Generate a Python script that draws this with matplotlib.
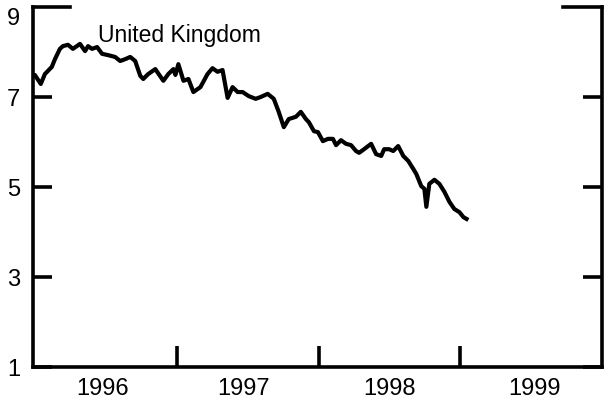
import numpy as np
import matplotlib
matplotlib.use("Agg")
import matplotlib.pyplot as plt

plt.rcParams['font.family'] = ['Liberation Sans', 'DejaVu Sans']

# 10年期国债收益率（英国），按读图估计
years = [1995.979, 1995.993, 1996.035, 1996.064, 1996.113, 1996.135, 1996.170, 1996.191,
         1996.227, 1996.262, 1996.312, 1996.348, 1996.369, 1996.397, 1996.433, 1996.468,
         1996.511, 1996.560, 1996.596, 1996.631, 1996.667, 1996.702, 1996.738, 1996.759,
         1996.794, 1996.844, 1996.901, 1996.936, 1996.972, 1996.986, 1997.007, 1997.043,
         1997.078, 1997.113, 1997.163, 1997.213, 1997.248, 1997.284, 1997.319, 1997.355,
         1997.390, 1997.426, 1997.461, 1997.504, 1997.553, 1997.589, 1997.638, 1997.681,
         1997.716, 1997.752, 1997.787, 1997.837, 1997.872, 1997.908, 1997.929, 1997.965,
         1997.993, 1998.028, 1998.064, 1998.099, 1998.121, 1998.156, 1998.191, 1998.227,
         1998.262, 1998.284, 1998.319, 1998.369, 1998.404, 1998.440, 1998.461, 1998.496,
         1998.525, 1998.560, 1998.596, 1998.631, 1998.667, 1998.688, 1998.723, 1998.745,
         1998.759, 1998.780, 1998.816, 1998.851, 1998.887, 1998.922, 1998.957, 1998.993,
         1999.021, 1999.043]
yields = [7.47, 7.49, 7.29, 7.51, 7.67, 7.84, 8.07, 8.13,
          8.16, 8.07, 8.18, 8.02, 8.13, 8.07, 8.11, 7.96,
          7.93, 7.89, 7.80, 7.84, 7.89, 7.80, 7.47, 7.40,
          7.51, 7.62, 7.36, 7.51, 7.62, 7.49, 7.73, 7.36,
          7.40, 7.11, 7.22, 7.51, 7.64, 7.56, 7.60, 6.98,
          7.22, 7.11, 7.11, 7.02, 6.96, 7.00, 7.07, 6.96,
          6.67, 6.33, 6.51, 6.56, 6.67, 6.51, 6.44, 6.24,
          6.22, 6.02, 6.07, 6.07, 5.93, 6.04, 5.96, 5.93,
          5.80, 5.76, 5.84, 5.96, 5.73, 5.69, 5.84, 5.84,
          5.80, 5.91, 5.69, 5.58, 5.40, 5.29, 5.02, 4.96,
          4.56, 5.07, 5.16, 5.07, 4.89, 4.67, 4.51, 4.44,
          4.33, 4.29]

title = "United Kingdom"
y_ticks = [1, 3, 5, 7]
year_labels = ["1996", "1997", "1998", "1999"]

LW = 2.6

fig = plt.figure(figsize=(6.04, 4.02), dpi=100)
ax = fig.add_axes([33 / 604, 34 / 402, 569 / 604, 360 / 402])

ax.plot(years, yields, color='black', linewidth=3.0, solid_joinstyle='round', clip_on=True)

ax.set_xlim(1995.98, 2000.0)
ax.set_ylim(1, 9)

# 坐标轴样式
for side in ['left', 'right', 'bottom']:
    ax.spines[side].set_linewidth(LW)
ax.spines['top'].set_visible(False)

ax.set_yticks(y_ticks)
ax.set_yticklabels([str(v) for v in y_ticks], fontsize=17)
ax.tick_params(axis='y', which='major', direction='in', length=14, width=LW,
               left=True, right=True, pad=9)
# 顶部 9 的长刻度
ax.axhline(9, xmin=0, xmax=37 / 569, color='black', linewidth=LW, clip_on=False)
ax.axhline(9, xmin=1 - 39 / 569, xmax=1, color='black', linewidth=LW, clip_on=False)
ax.text(-0.022, 9, "9", transform=ax.get_yaxis_transform(), ha='right', va='top',
        fontsize=17)

ax.set_xticks([1997, 1998, 1999])
ax.set_xticklabels([])
ax.tick_params(axis='x', which='major', direction='in', length=15, width=LW)
ax.set_xticks([1996.47, 1997.47, 1998.5, 1999.52], minor=True)
ax.set_xticklabels(year_labels, minor=True, fontsize=17)
ax.tick_params(axis='x', which='minor', length=0, pad=7)

ax.text(0.114, 0.906, title, transform=ax.transAxes, fontsize=16.5, va='baseline', ha='left')

fig.savefig("out.png", dpi=100)
